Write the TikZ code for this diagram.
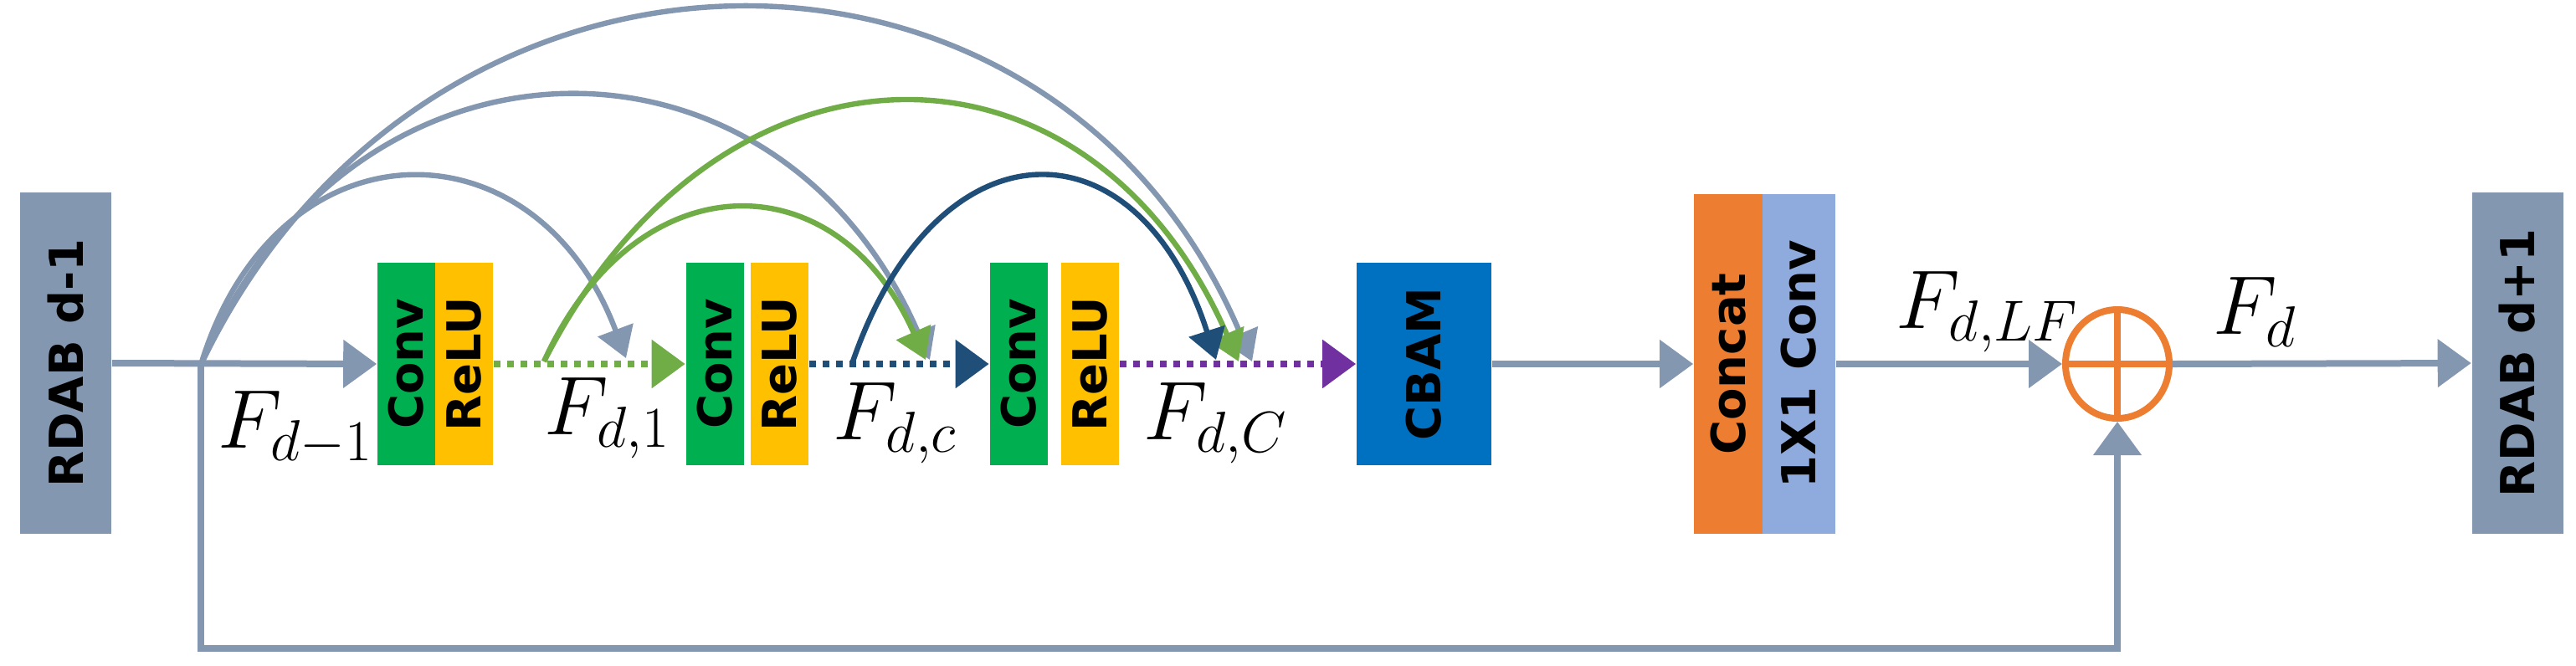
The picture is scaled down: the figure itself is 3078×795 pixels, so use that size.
\documentclass[tikz,border=0pt]{standalone}
\usepackage{fontspec}
\usepackage{amsmath}
\usetikzlibrary{arrows.meta,shapes.geometric}
\newfontfamily\blockfont{DejaVu Sans}
\definecolor{slate}{HTML}{8497B0}
\definecolor{convgreen}{HTML}{00B050}
\definecolor{reluyellow}{HTML}{FFC000}
\definecolor{cbamblue}{HTML}{0070C0}
\definecolor{catorange}{HTML}{ED7D31}
\definecolor{onebyone}{HTML}{8FAADC}
\definecolor{leafgreen}{HTML}{70AD47}
\definecolor{navy}{HTML}{1F4E79}
\definecolor{violet}{HTML}{7030A0}
\tikzset{
  block/.style={rectangle, inner sep=0pt, rotate=90, font=\blockfont\bfseries\fontsize{14}{16}\selectfont},
  small/.style={block, minimum width=60.5pt, minimum height=17.25pt},
  tall/.style={block, minimum width=101.5pt},
  lbl/.style={font=\fontsize{25}{30}\selectfont},
  tip/.style={-{Triangle[length=10pt,width=14pt]}},
  flow/.style={tip, draw=slate, line width=2pt},
  skip/.style={-{Triangle[length=9pt,width=11pt]}, line width=1.6pt},
  dots/.style={tip, line width=2.2pt, dash pattern=on 2pt off 2pt}
}
\begin{document}
\begin{tikzpicture}[x=0.25pt, y=-0.25pt]
            \useasboundingbox (0,0) rectangle (3078,795);

            % blocks
            \node[tall, fill=slate, minimum width=102pt, minimum height=27.25pt] (in) at (78.5,434) {RDAB d-1};
            \node[small, fill=convgreen] (c1) at (485.5,435) {Conv};
            \node[small, fill=reluyellow] (r1) at (554.5,435) {ReLU};
            \node[small, fill=convgreen] (c2) at (854,435) {Conv};
            \node[small, fill=reluyellow] (r2) at (931.5,435) {ReLU};
            \node[small, fill=convgreen] (c3) at (1217,435) {Conv};
            \node[small, fill=reluyellow] (r3) at (1302.5,435) {ReLU};
            \node[small, fill=cbamblue, minimum height=40.25pt] (cbam) at (1701.5,435) {CBAM};
            \node[tall, fill=catorange, minimum height=20.5pt] (cat) at (2065,435) {Concat};
            \node[tall, fill=onebyone, minimum height=21.75pt] (lff) at (2149.5,435) {1X1 Conv};
            \node[tall, fill=slate, minimum width=102pt, minimum height=27.25pt] (out) at (3008,434) {RDAB d+1};
            \node[draw=catorange, line width=2pt, ellipse, minimum width=31pt, minimum height=32.5pt, inner sep=0pt] (sum) at (2530,435) {};
            \draw[catorange, line width=2pt] (sum.north) -- (sum.south) (sum.west) -- (sum.east);

            % branch point and arc ends
            \coordinate (br) at (240,436);
            \coordinate (g1) at (748,428);
            \coordinate (g2) at (1111,430);
            \coordinate (g3) at (1496,432);
            \coordinate (e1) at (650,432);
            \coordinate (e2) at (1106,430);
            \coordinate (e3) at (1480,432);
            \coordinate (n0) at (1019,432);
            \coordinate (n1) at (1453,430);

            % main path
            \draw[flow] (in.south) -- (c1.north);
            \draw[dots, leafgreen] (r1.south) -- (c2.north);
            \draw[dots, navy] (r2.south) -- (c3.north);
            \draw[dots, violet] (r3.south) -- (cbam.north);
            \draw[flow] (cbam.south) -- (cat.north);
            \draw[flow] (lff.south) -- (sum.west);
            \draw[flow] (sum.east) -- (out.north);
            \draw[flow] (br) -- (240,775) -| (sum.south);

            % dense connections
            \draw[skip, slate] (br) .. controls (330,140) and (640,140) .. (g1);
            \draw[skip, slate] (br) .. controls (420,10) and (930,10) .. (g2);
            \draw[skip, slate] (br) .. controls (510,-130) and (1260,-130) .. (g3);
            \draw[skip, leafgreen] (e1) .. controls (760,190) and (1000,190) .. (e2);
            \draw[skip, leafgreen] (e1) .. controls (860,20) and (1300,20) .. (e3);
            \draw[skip, navy] (n0) .. controls (1120,140) and (1360,140) .. (n1);

            % labels
            \node[lbl] (fin) at (353,512) {$F_{d-1}$};
            \node[lbl] (f1) at (726,500) {$F_{d,1}$};
            \node[lbl] (fc) at (1070,506) {$F_{d,c}$};
            \node[lbl] (fC) at (1453,506) {$F_{d,C}$};
            \node[lbl] (flf) at (2375,373) {$F_{d,LF}$};
            \node[lbl] (fd) at (2695,373) {$F_{d}$};
        \end{tikzpicture}
\end{document}
